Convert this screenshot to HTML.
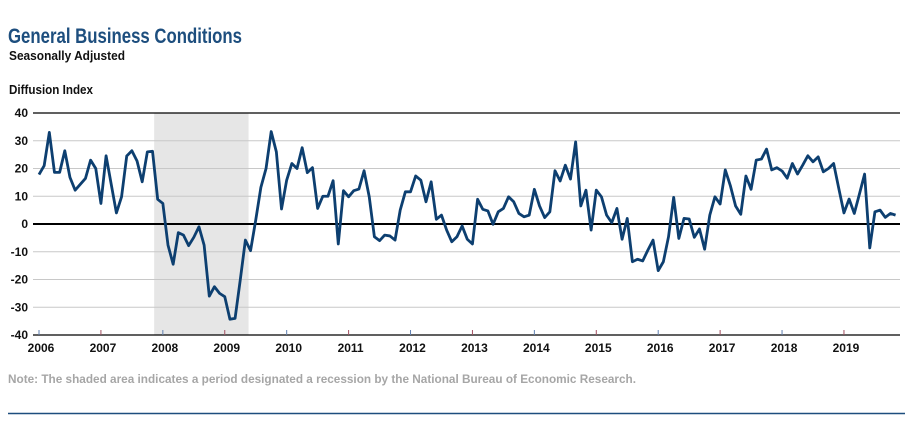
<!DOCTYPE html>
<html><head><meta charset="utf-8"><style>
html,body{margin:0;padding:0;background:#fff;width:913px;height:422px;overflow:hidden}
svg{display:block}
text{font-family:"Liberation Sans Narrow","Liberation Sans",sans-serif}
</style></head><body>
<svg id="chart" width="913" height="422" viewBox="0 0 913 422">
<text x="8" y="43" font-size="21" font-weight="bold" fill="#1d4e7e" textLength="234" lengthAdjust="spacingAndGlyphs">General Business Conditions</text>
<text x="9" y="60" font-size="13" font-weight="bold" fill="#111" textLength="116" lengthAdjust="spacingAndGlyphs">Seasonally Adjusted</text>
<text x="9" y="94" font-size="13" font-weight="bold" fill="#111" textLength="84" lengthAdjust="spacingAndGlyphs">Diffusion Index</text>
<g id="plot"></g>
<text x="8" y="383" font-size="12" font-weight="bold" fill="#a6a6a6" textLength="628" lengthAdjust="spacingAndGlyphs">Note: The shaded area indicates a period designated a recession by the National Bureau of Economic Research.</text>
<line x1="8" y1="413.5" x2="905" y2="413.5" stroke="#1d4e7e" stroke-width="1.5"/>
</svg>
<script>
const years = [2006,2007,2008,2009,2010,2011,2012,2013,2014,2015,2016,2017,2018,2019];
const yTicks = [40,30,20,10,0,-10,-20,-30,-40];
const recessionStart = [2007,11];
const recessionEnd = [2009,5];
const v2006 = [17.8,21,33,18.6,18.6,26.4,16.8,12.2,14.3,16.4,23,20];
const v2007 = [7.4,24.6,14.3,4,9.8,24.5,26.4,22.7,15.2,26,26.2,8.9];
const v2008 = [7.4,-7.6,-14.5,-3.1,-4,-7.8,-4.8,-1,-7.6,-26,-22.6,-25];
const v2009 = [-26.2,-34.3,-34,-20.2,-5.8,-9.6,1.4,13.2,20,33.3,26,5.4];
const v2010 = [15.8,21.8,20,27.5,18.5,20.3,5.6,10,10,15.6,-7.2,12];
const v2011 = [9.8,12,12.6,19.2,9.8,-4.6,-6,-4,-4.3,-5.8,5,11.6];
const v2012 = [11.6,17.3,15.8,8,15.2,1.7,3.2,-2.2,-6.4,-4.6,-0.7,-5.5];
const v2013 = [-7.2,8.9,5.3,4.7,-0.1,4.4,5.6,9.8,8,3.8,2.6,3.2];
const v2014 = [12.5,6.5,2.3,4.4,19.2,15.5,21.2,16.2,29.6,6.5,12.2,-2.2];
const v2015 = [12.2,9.8,3.2,0.5,5.6,-5.5,2,-13.6,-12.7,-13.3,-9.4,-5.8];
const v2016 = [-16.8,-13.6,-4.6,9.6,-5.2,2,1.8,-4.8,-1.8,-9.1,3.2,9.8];
const v2017 = [7.2,19.5,13.7,6.5,3.5,17.3,12.5,23,23.4,27,19.5,20.3];
const v2018 = [19.1,16.5,21.8,18,21.2,24.6,22.4,24.2,18.8,20,21.8,12.8];
const v2019 = [4,9,3.8,10.8,18,-8.6,4.4,5,2.4,3.8,3.2];
const values = [].concat(v2006,v2007,v2008,v2009,v2010,v2011,v2012,v2013,v2014,v2015,v2016,v2017,v2018,v2019);

const NS="http://www.w3.org/2000/svg";
const g=document.getElementById('plot');
const X0=39, MONTH=5.16, Y0=224, YS=2.775, LEFT=33, RIGHT=900;
function xScale(i){return X0+i*MONTH;}
function yScale(v){return Y0-v*YS;}
function mk(tag,attrs){const e=document.createElementNS(NS,tag);for(const k in attrs)e.setAttribute(k,attrs[k]);g.appendChild(e);return e;}

const rs=(recessionStart[0]-years[0])*12+recessionStart[1], re=(recessionEnd[0]-years[0])*12+recessionEnd[1];
const rect=mk('rect',{x:xScale(rs)-3.5,y:yScale(40),width:xScale(re)-xScale(rs)+1.5,height:yScale(-40)-yScale(40),fill:'#e6e6e6'});



yTicks.forEach(t=>{
  const main=(t===0||t===40||t===-40);
  const ln=mk('line',{x1:LEFT,x2:RIGHT,y1:yScale(t),y2:yScale(t),stroke:main?'#000':'#c8c8c8','stroke-width':t===0?2:(main?1.2:1)});
  
  
  const tx=mk('text',{x:28,y:yScale(t)+4,'font-size':12,'font-weight':'bold','text-anchor':'end',fill:'#111'});
  tx.textContent=t;
  
  
});

years.forEach((y,k)=>{
  const x=xScale(k*12);
  const tk=mk('line',{x1:x,x2:x,y1:yScale(-40)-5,y2:yScale(-40),stroke:k%2?'#a05060':'#6080b0','stroke-width':1});
  
  
  const tx=mk('text',{x:x+2,y:352,'font-size':12,'font-weight':'bold','text-anchor':'middle',fill:'#111'});
  tx.textContent=y;
  
  
});

const p=mk('polyline',{points:values.map((v,i)=>xScale(i)+','+yScale(v)).join(' '),fill:'none',stroke:'#0d3f70','stroke-width':2.8,'stroke-linejoin':'round'});


</script>
</body></html>
